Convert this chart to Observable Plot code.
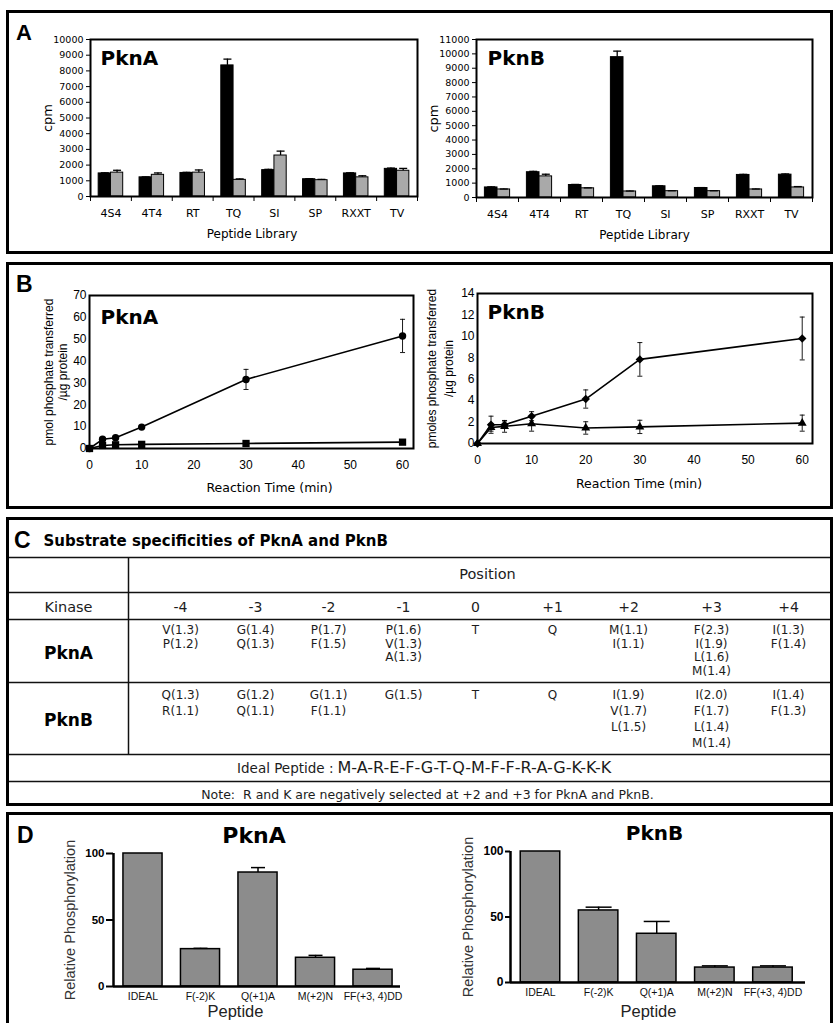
<!DOCTYPE html>
<html><head><meta charset="utf-8">
<script src="https://cdn.jsdelivr.net/npm/d3@7"></script>
<script src="https://cdn.jsdelivr.net/npm/@observablehq/plot@0.6"></script>
<style>
body{margin:0;background:#fff}
#page{position:relative;width:835px;height:1023px;overflow:hidden;background:#fff}
</style></head><body><div id="page"></div>
<script>
// ---------------- DATA ----------------
// Panel A: peptide library screen (cpm)
const libraries = ["4S4","4T4","RT","TQ","SI","SP","RXXT","TV"];
const aPknABlack    = [1470,1220,1500,8350,1680,1100,1470,1760];
const aPknABlackErr = [40,30,40,400,50,30,40,50];
const aPknAGray     = [1520,1380,1520,1060,2610,1040,1220,1640];
const aPknAGrayErr  = [150,120,170,60,280,50,100,150];
const aPknBBlack    = [700,1760,870,9770,780,660,1570,1590];
const aPknBBlackErr = [40,60,40,420,30,30,40,50];
const aPknBGray     = [560,1470,640,420,440,440,560,700];
const aPknBGrayErr  = [30,150,30,30,30,30,30,60];
const aPknATicks = [0,1000,2000,3000,4000,5000,6000,7000,8000,9000,10000];
const aPknBTicks = [0,1000,2000,3000,4000,5000,6000,7000,8000,9000,10000,11000];

// Panel B: time course
const bPknATime = [0,2.5,5,10,30,60];
const bPknACircle = [0,4.2,4.9,9.8,31.6,51.5];
const bPknACircleErr = [0,0.5,0.5,0.6,4.6,7.6];
const bPknASquare = [0,1.4,1.7,1.9,2.3,2.9];
const bPknASquareErr = [0,0.2,0.2,0.2,0.3,0.4];
const bPknBTime = [0,2.5,5,10,20,30,60];
const bPknBDiamond = [0,1.75,1.75,2.55,4.15,7.85,9.8];
const bPknBDiamondErr = [0,0.8,0.35,0.42,0.85,1.57,2.0];
const bPknBTriangle = [0,1.5,1.6,1.85,1.45,1.55,1.9];
const bPknBTriangleErr = [0,0.35,0.55,0.7,0.58,0.62,0.75];
const bTimeTicks = [0,10,20,30,40,50,60];
const bPknATicks = [0,10,20,30,40,50,60,70];
const bPknBTicks = [0,2,4,6,8,10,12,14];

// Panel C: substrate specificity table
const tableTitle = "Substrate specificities of PknA and PknB";
const positions = ["-4","-3","-2","-1","0","+1","+2","+3","+4"];
const kinases = ["PknA","PknB"];
const pknASpec = [["V(1.3)","P(1.2)"],["G(1.4)","Q(1.3)"],["P(1.7)","F(1.5)"],["P(1.6)","V(1.3)","A(1.3)"],["T"],["Q"],["M(1.1)","I(1.1)"],["F(2.3)","I(1.9)","L(1.6)","M(1.4)"],["I(1.3)","F(1.4)"]];
const pknBSpec = [["Q(1.3)","R(1.1)"],["G(1.2)","Q(1.1)"],["G(1.1)","F(1.1)"],["G(1.5)"],["T"],["Q"],["I(1.9)","V(1.7)","L(1.5)"],["I(2.0)","F(1.7)","L(1.4)","M(1.4)"],["I(1.4)","F(1.3)"]];
const idealLabel = "Ideal Peptide :";
const idealPeptide = "M-A-R-E-F-G-T-Q-M-F-F-R-A-G-K-K-K";
const noteText = "Note:  R and K are negatively selected at +2 and +3 for PknA and PknB.";

// Panel D: mutant peptides
const dPeptides = ["IDEAL","F(-2)K","Q(+1)A","M(+2)N","FF(+3, 4)DD"];
const dPknA = [100,28.1,85.7,21.6,12.6];
const dPknAErr = [0,0.6,3.7,1.8,1.0];
const dPknB = [100,55,37.2,11.4,11.4];
const dPknBErr = [0,2.5,9.4,1.3,1.3];
const dTicks = [0,50,100];

// ---------------- HELPERS ----------------
const page = document.getElementById("page");
function place(svg, left, top) {
  svg.style.position = "absolute";
  svg.style.left = left + "px";
  svg.style.top = top + "px";
  page.appendChild(svg);
}
const hline = {draw(ctx, size) { const w = Math.sqrt(size / Math.PI); ctx.moveTo(-w, 0); ctx.lineTo(w, 0); }};
const baseStyle = {background: "transparent", overflow: "visible", fontFamily: "DejaVu Sans, sans-serif", fontSize: "10px", color: "black"};
const fmt = d => String(d);
const arial = "Liberation Sans, Arial, sans-serif";

// ---------------- PANEL A ----------------
function chartA(c) {
  const rows = [];
  libraries.forEach((lib, i) => {
    rows.push({i, s: 0, v: c.black[i], e: c.blackErr[i]});
    rows.push({i, s: 1, v: c.gray[i], e: c.grayErr[i]});
  });
  const xc = d => d.i + (d.s ? 0.65 : 0.35);
  return Plot.plot({
    width: c.width, height: c.height,
    marginLeft: c.mL, marginRight: c.mR, marginTop: c.mT, marginBottom: c.mB,
    style: baseStyle,
    x: {domain: [0, libraries.length]},
    y: {domain: [0, c.ticks[c.ticks.length - 1]]},
    marks: [
      Plot.rect(rows.filter(d => d.s === 0), {x1: d => d.i + 0.2, x2: d => d.i + 0.5, y1: () => 0, y2: "v", fill: "#000", stroke: "#000", strokeWidth: 1}),
      Plot.rect(rows.filter(d => d.s === 1), {x1: d => d.i + 0.5, x2: d => d.i + 0.8, y1: () => 0, y2: "v", fill: "#a9a9a9", stroke: "#000", strokeWidth: 1}),
      Plot.ruleX(rows, {x: xc, y1: "v", y2: d => d.v + d.e, stroke: "#000", strokeWidth: 1.3}),
      Plot.dot(rows, {x: xc, y: d => d.v + d.e, symbol: hline, r: 4, fill: "none", stroke: "#000", strokeWidth: 1.3}),
      Plot.frame({stroke: "#000", strokeWidth: 2}),
      Plot.axisY({ticks: c.ticks, tickSize: 4, tickPadding: 3, tickFormat: fmt, fontSize: 9.5, label: null}),
      Plot.axisX({ticks: libraries.map((_, i) => i + 0.5), tickSize: 0, tickPadding: 13, tickFormat: t => libraries[Math.floor(t)], fontSize: 11, label: null}),
      Plot.axisX({ticks: d3.range(0, libraries.length + 1), tickSize: 5, tickFormat: () => "", label: null}),
      Plot.text([c.title], {text: d => d, frameAnchor: "top-left", dx: c.tdx, dy: 19, textAnchor: "start", lineAnchor: "middle", fontSize: 20, fontWeight: "bold"}),
      Plot.text(["cpm"], {text: d => d, frameAnchor: "left", rotate: -90, dx: -43, textAnchor: "middle", lineAnchor: "middle", fontSize: 13}),
      Plot.text(["Peptide Library"], {text: d => d, frameAnchor: "bottom", dy: 38, dx: c.ldx, textAnchor: "middle", lineAnchor: "middle", fontSize: 12})
    ]
  });
}
place(chartA({black: aPknABlack, blackErr: aPknABlackErr, gray: aPknAGray, grayErr: aPknAGrayErr, ticks: aPknATicks, title: "PknA",
  width: 412, height: 238, mL: 80, mR: 5, mT: 25, mB: 56, tdx: 10, ldx: -2}), 10, 14);
place(chartA({black: aPknBBlack, blackErr: aPknBBlackErr, gray: aPknBGray, grayErr: aPknBGrayErr, ticks: aPknBTicks, title: "PknB",
  width: 400, height: 238, mL: 56, mR: 8, mT: 25, mB: 55, tdx: 11, ldx: 0}), 420, 14);

// ---------------- PANEL B ----------------
function chartB(c) {
  const rows = [];
  c.series.forEach(s => s.v.forEach((v, j) => rows.push({k: s.name, t: s.t[j], v, e: s.e[j]})));
  const err = rows.filter(d => d.e > 0);
  return Plot.plot({
    width: c.width, height: c.height,
    marginLeft: c.mL, marginRight: c.mR, marginTop: c.mT, marginBottom: c.mB,
    style: baseStyle,
    x: {domain: [0, c.xMax]},
    y: {domain: [0, c.yTicks[c.yTicks.length - 1]]},
    marks: [
      Plot.line(rows, {x: "t", y: "v", z: "k", stroke: "#000", strokeWidth: 1.6}),
      Plot.ruleX(err, {x: "t", y1: d => d.v - d.e, y2: d => d.v + d.e, stroke: "#000", strokeWidth: 0.9}),
      Plot.dot(err, {x: "t", y: d => d.v + d.e, symbol: hline, r: 2.5, fill: "none", stroke: "#000", strokeWidth: 0.9}),
      Plot.dot(err, {x: "t", y: d => d.v - d.e, symbol: hline, r: 2.5, fill: "none", stroke: "#000", strokeWidth: 0.9}),
      ...c.series.map(s => Plot.dot(rows.filter(d => d.k === s.name), {x: "t", y: "v", symbol: s.symbol, r: s.r, fill: "#000", stroke: "none"})),
      Plot.frame({stroke: "#000", strokeWidth: 2}),
      Plot.axisY({ticks: c.yTicks, tickSize: 0, tickPadding: 3, tickFormat: fmt, fontSize: 12, fontFamily: arial, label: null}),
      Plot.axisX({ticks: bTimeTicks, tickSize: 0, tickPadding: 12, tickFormat: fmt, fontSize: 12, fontFamily: arial, label: null}),
      Plot.text([c.title], {text: d => d, frameAnchor: "top-left", dx: c.tdx, dy: c.tdy, textAnchor: "start", lineAnchor: "middle", fontSize: 20, fontWeight: "bold"}),
      Plot.text([c.ylabel], {text: d => d, frameAnchor: "left", rotate: -90, dx: c.ydx, textAnchor: "middle", lineAnchor: "middle", lineHeight: c.lh, fontSize: 12, fontFamily: arial}),
      Plot.text(["Reaction Time (min)"], {text: d => d, frameAnchor: "bottom", dx: c.ldx, dy: c.ldy, textAnchor: "middle", lineAnchor: "middle", fontSize: 12.5})
    ]
  });
}
place(chartB({
  series: [
    {name: "circle", t: bPknATime, v: bPknACircle, e: bPknACircleErr, symbol: "circle", r: 3.7},
    {name: "square", t: bPknATime, v: bPknASquare, e: bPknASquareErr, symbol: "square", r: 4.1}
  ],
  xMax: 62.1, yTicks: bPknATicks, title: "PknA", ylabel: "pmol phosphate transferred\n/µg protein",
  width: 410, height: 238, mL: 79, mR: 7, mT: 27, mB: 58, tdx: 11, tdy: 22, ydx: -34, lh: 1.2, ldx: 18, ldy: 39}), 10, 268);
place(chartB({
  series: [
    {name: "diamond", t: bPknBTime, v: bPknBDiamond, e: bPknBDiamondErr, symbol: "diamond2", r: 3.8},
    {name: "triangle", t: bPknBTime, v: bPknBTriangle, e: bPknBTriangleErr, symbol: "triangle", r: 3.3}
  ],
  xMax: 61.9, yTicks: bPknBTicks, title: "PknB", ylabel: "pmoles phosphate transferred\n/µg protein",
  width: 400, height: 238, mL: 57, mR: 8, mT: 25, mB: 63, tdx: 10, tdy: 19, ydx: -38, lh: 1.42, ldx: -6, ldy: 40}), 420, 268);

// ---------------- PANEL C (table) ----------------
(function () {
  // layout (page pixels)
  const colX = [180, 255, 328, 403, 475, 552, 628, 711, 788];
  const labelX = 68, divX = 128;
  const gridY = [557, 592, 619, 682, 754, 781];
  const rowStart = [630, 695], rowStep = [13.5, 15.8], rowLabelY = [653, 720];
  const specs = [pknASpec, pknBSpec];
  const cells = [];
  specs.forEach((spec, r) => spec.forEach((lines, j) => lines.forEach((t, k) =>
    cells.push({x: colX[j], y: rowStart[r] + k * rowStep[r], t}))));
  const heads = positions.map((p, j) => ({x: colX[j], y: 607, t: p}));
  const labels = kinases.map((k, r) => ({x: labelX, y: rowLabelY[r], t: k}));
  const tc = "#1c1c1c";
  const svg = Plot.plot({
    width: 827, height: 286, margin: 0,
    style: baseStyle,
    x: {domain: [6, 833], range: [0, 827], axis: null},
    y: {domain: [519, 805], range: [0, 286], axis: null},
    marks: [
      Plot.ruleY(gridY, {stroke: "#111", strokeWidth: 1.5}),
      Plot.ruleX([divX], {y1: gridY[0], y2: gridY[4], stroke: "#111", strokeWidth: 1.5}),
      Plot.text([tableTitle], {text: d => d, x: 43, y: 541, textAnchor: "start", fontSize: 15, fontWeight: "bold", fill: "#000"}),
      Plot.text(["Position"], {text: d => d, x: 487, y: 574, fontSize: 14.5, fill: tc}),
      Plot.text(["Kinase"], {text: d => d, x: labelX, y: 607, fontSize: 14.5, fill: tc}),
      Plot.text(heads, {x: "x", y: "y", text: "t", fontSize: 14, fill: tc}),
      Plot.text(labels, {x: "x", y: "y", text: "t", fontSize: 17, fontWeight: "bold", fill: "#000"}),
      Plot.text(cells, {x: "x", y: "y", text: "t", fontSize: 12, fill: tc}),
      Plot.text([idealLabel], {text: d => d, x: 333, y: 768, textAnchor: "end", fontSize: 13.5, fill: tc}),
      Plot.text([idealPeptide], {text: d => d, x: 337, y: 767, textAnchor: "start", fontSize: 16, fill: tc}),
      Plot.text([noteText], {text: d => d, x: 427, y: 794, fontSize: 12.5, fill: tc})
    ]
  });
  place(svg, 6, 519);
})();

// ---------------- PANEL D ----------------
function chartD(c) {
  const rows = dPeptides.map((p, i) => ({i, p, v: c.v[i], e: c.e[i]}));
  const err = rows.filter(d => d.e > 0);
  return Plot.plot({
    width: c.width, height: c.height,
    marginLeft: c.mL, marginRight: c.mR, marginTop: c.mT, marginBottom: c.mB,
    style: baseStyle,
    x: {domain: c.xDomain, axis: null},
    y: {domain: [0, 100]},
    marks: [
      Plot.rect(rows, {x1: d => d.i - 0.34, x2: d => d.i + 0.34, y1: () => 0, y2: "v", fill: "#8c8c8c", stroke: "#000", strokeWidth: 1.5}),
      Plot.ruleX(err, {x: "i", y1: "v", y2: d => d.v + d.e, stroke: "#000", strokeWidth: 1.5}),
      Plot.dot(err, {x: "i", y: d => d.v + d.e, symbol: hline, r: c.capR, fill: "none", stroke: "#000", strokeWidth: 1.5}),
      Plot.ruleY([0], {stroke: "#000", strokeWidth: 2.5}),
      Plot.ruleX([c.xDomain[0]], {stroke: "#000", strokeWidth: 2.5}),
      Plot.axisY({ticks: dTicks, tickSize: c.tickSize, tickPadding: 2, tickFormat: fmt, fontSize: c.tickFont, fontWeight: "bold", fontFamily: arial, strokeWidth: 2, label: null}),
      Plot.text(rows, {x: "i", text: "p", frameAnchor: "bottom", dy: c.xdy, textAnchor: "middle", lineAnchor: "middle", fontSize: 10.5, fontFamily: arial, letterSpacing: "0.8px", fill: "#111"}),
      Plot.text([c.title], {text: d => d, frameAnchor: "top", dx: c.tdx, dy: -17.5, textAnchor: "middle", lineAnchor: "middle", fontSize: c.titleFont, fontWeight: "bold"}),
      Plot.text(["Relative Phosphorylation"], {text: d => d, frameAnchor: "left", rotate: -90, dx: c.ydx, textAnchor: "middle", lineAnchor: "middle", fontSize: 14.5, fontFamily: arial, fill: "#333"}),
      Plot.text(["Peptide"], {text: d => d, frameAnchor: "bottom", dx: c.pdx, dy: c.pdy, textAnchor: "middle", lineAnchor: "middle", fontSize: 16.5, fontFamily: arial, fill: "#222"})
    ]
  });
}
place(chartD({v: dPknA, e: dPknAErr, title: "PknA", xDomain: [-0.513, 4.478], capR: 7,
  width: 400, height: 180, mL: 103, mR: 10, mT: 13, mB: 34, tickSize: 7, tickFont: 11.5, xdy: 10.5,
  tdx: -3, titleFont: 22, ydx: -43, pdx: -21.5, pdy: 25}), 10, 840);
place(chartD({v: dPknB, e: dPknBErr, title: "PknB", xDomain: [-0.516, 4.56], capR: 13,
  width: 400, height: 185, mL: 90, mR: 15, mT: 13, mB: 41, tickSize: 5, tickFont: 12, xdy: 10.5,
  tdx: -3.5, titleFont: 20, ydx: -42, pdx: -9.5, pdy: 29}), 420, 838);

// ---------------- PANEL FRAMES & LETTERS ----------------
const ov = d3.select(page).append("svg").attr("width", 835).attr("height", 1023)
  .style("position", "absolute").style("left", "0px").style("top", "0px").style("pointer-events", "none");
const boxes = [[10, 254], [262, 509], [517, 806], [812, 1030]];
boxes.forEach(([y0, y1]) => ov.append("rect").attr("x", 7.5).attr("y", y0 + 1.5).attr("width", 824).attr("height", y1 - y0 - 3)
  .attr("fill", "none").attr("stroke", "#000").attr("stroke-width", 3));
const letters = [["A", 16, 40, 22], ["B", 16, 292, 23], ["C", 14, 548, 23], ["D", 17, 843, 23]];
letters.forEach(([t, x, y, s]) => ov.append("text").attr("x", x).attr("y", y).text(t)
  .attr("font-family", arial).attr("font-weight", "bold").attr("font-size", s));
</script></body></html>
